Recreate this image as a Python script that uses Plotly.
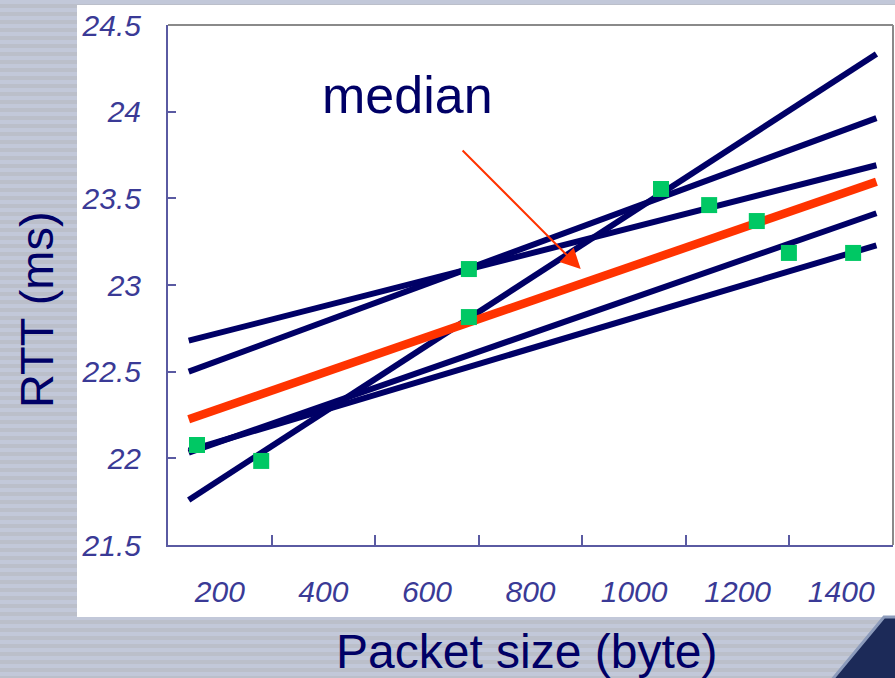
import plotly.graph_objects as go

# ---- data ----
fit_x = [140, 1468]
fit_a_y = [21.76, 24.333]
fit_b_y = [22.50, 23.963]
fit_c_y = [22.679, 23.691]
fit_d_y = [22.033, 23.414]
fit_e_y = [22.045, 23.229]
median_y = [22.225, 23.596]

sample_x = [156, 280, 681, 681, 1052, 1145, 1237, 1299, 1423]
sample_y = [22.077, 21.985, 23.092, 22.815, 23.554, 23.461, 23.369, 23.185, 23.185]

x_label_vals = [200, 400, 600, 800, 1000, 1200, 1400]
x_tick_marks = [300, 500, 700, 900, 1100, 1300]
y_tick_vals = [21.5, 22, 22.5, 23, 23.5, 24, 24.5]
y_tick_text = ["21.5", "22", "22.5", "23", "23.5", "24", "24.5"]

arrow_tip = (897, 23.092)
arrow_tail = (666, 23.785)

NAVY = "#000066"
RED = "#ff3300"
GREEN = "#00c864"
AXIS = "#5a5aa2"
TICKTXT = "#3a3a96"

W, H = 895, 678
ML, MR, MT, MB = 168, 2, 25, 133
PW, PH = W - ML - MR, H - MT - MB


def px(x):
    return (x - ML) / PW


def py(y):
    return (H - MB - y) / PH


fig = go.Figure()
for ys in [fit_a_y, fit_b_y, fit_c_y, fit_d_y, fit_e_y]:
    fig.add_trace(go.Scatter(x=fit_x, y=ys, mode="lines",
                             line=dict(color=NAVY, width=6), hoverinfo="skip"))
fig.add_trace(go.Scatter(x=fit_x, y=median_y, mode="lines",
                         line=dict(color=RED, width=8.5), hoverinfo="skip"))
fig.add_trace(go.Scatter(x=sample_x, y=sample_y, mode="markers",
                         marker=dict(symbol="square", size=16, color=GREEN,
                                     line=dict(width=0))))

fig.update_layout(
    width=W, height=H,
    margin=dict(l=ML, r=MR, t=MT, b=MB),
    paper_bgcolor="#bbbfca",
    plot_bgcolor="white",
    showlegend=False,
    xaxis=dict(range=[100, 1500], tickmode="array", tickvals=x_label_vals,
               ticktext=[str(v) for v in x_label_vals], ticks="",
               showline=True, linecolor=AXIS, linewidth=2,
               showgrid=False, zeroline=False,
               ticklabelstandoff=19,
               tickfont=dict(family="Liberation Sans", size=30, color=TICKTXT, style="italic"),
               minor=dict(tickmode="array", tickvals=x_tick_marks, ticks="inside",
                          ticklen=10, tickwidth=2, tickcolor=AXIS, showgrid=False)),
    yaxis=dict(range=[21.5, 24.5], tickmode="array", tickvals=y_tick_vals,
               ticktext=y_tick_text, ticks="inside", ticklen=8, tickwidth=2,
               tickcolor=AXIS, showline=True, linecolor=AXIS, linewidth=2,
               showgrid=False, zeroline=False, ticklabelstandoff=19,
               tickfont=dict(family="Liberation Sans", size=30, color=TICKTXT, style="italic")),
)

shapes = []
# slide background stripes (decoration)
for s in range(0, H, 8):
    shapes.append(dict(type="rect", xref="paper", yref="paper",
                       x0=px(-2), x1=px(W + 2), y0=py(s + 4), y1=py(s),
                       fillcolor="#c2c8d9", line=dict(width=0), layer="below"))
shapes += [
    # white chart box behind the plot
    dict(type="rect", xref="paper", yref="paper", x0=px(77), x1=px(W + 2), y0=py(617), y1=py(5),
         fillcolor="white", line=dict(width=0), layer="below"),
    # top and right frame lines
    dict(type="line", xref="paper", yref="paper", x0=0, x1=1, y0=1, y1=1,
         line=dict(color="#8a8a8a", width=2)),
    dict(type="line", xref="paper", yref="paper", x0=1, x1=1, y0=0, y1=1,
         line=dict(color="#8a8a8a", width=2)),
    # slide corner decoration
    dict(type="path", xref="paper", yref="paper",
         path=f"M {px(884)} {py(617)} L {px(W + 3)} {py(617)} L {px(W + 3)} {py(H + 3)} "
              f"L {px(831)} {py(H + 3)} Z",
         fillcolor="#1c2a58", line=dict(color="#8c9bbb", width=3), layer="below"),
]
fig.update_layout(shapes=shapes)

fig.add_annotation(x=arrow_tip[0], y=arrow_tip[1], ax=arrow_tail[0], ay=arrow_tail[1],
                   xref="x", yref="y", axref="x", ayref="y", text="",
                   showarrow=True, arrowhead=2, arrowsize=2, arrowwidth=2, arrowcolor=RED)
fig.add_annotation(x=px(407), y=py(95), xref="paper", yref="paper",
                   text="median", showarrow=False, xanchor="center", yanchor="middle",
                   font=dict(family="Liberation Sans", size=52, color=NAVY))
fig.add_annotation(x=px(526), y=py(651), xref="paper", yref="paper",
                   text="Packet size (byte)", showarrow=False, xanchor="center", yanchor="middle",
                   font=dict(family="Liberation Sans", size=48, color=NAVY))
fig.add_annotation(x=px(36), y=py(310), xref="paper", yref="paper",
                   text="RTT (ms)", showarrow=False, textangle=-90,
                   xanchor="center", yanchor="middle",
                   font=dict(family="Liberation Sans", size=47, color=NAVY))

fig.write_html("out.html", config={"displayModeBar": False},
               post_script="document.body.style.margin='0';")
